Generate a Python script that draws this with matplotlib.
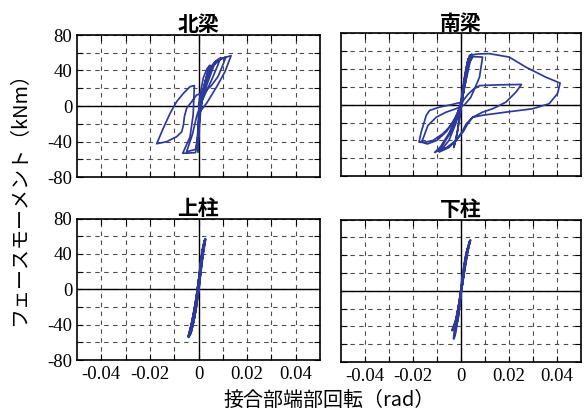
import matplotlib
matplotlib.use("Agg")
import matplotlib.pyplot as plt

plt.rcParams["axes.unicode_minus"] = False

# Joint-face moment vs. joint-end rotation, one hysteresis path per member
titles = ["北梁", "南梁", "上柱", "下柱"]
x_ticks = [-0.04, -0.02, 0.0, 0.02, 0.04]
x_tick_labels = ["-0.04", "-0.02", "0", "0.02", "0.04"]
x_minor = [-0.03, -0.01, 0.01, 0.03]
y_ticks = [-80, -40, 0, 40, 80]
y_tick_labels = ["-80", "-40", "0", "40", "80"]
y_minor = [-60, -20, 20, 60]

# (rotation [rad], moment [kNm]) along the loading history
north_beam = [
    (0.0000, 0.0), (0.0008, 15.0), (0.0020, 32.0), (0.0035, 42.0), (0.0047, 46.0),
    (0.0036, 37.0), (0.0016, 16.0), (0.0003, 0.0), (-0.0002, -20.0), (-0.0004, -38.0), (-0.0003, -48.0),
    (0.0000, -30.0), (0.0005, -10.0), (0.0015, 10.0), (0.0030, 30.0), (0.0050, 44.0), (0.0069, 50.0),
    (0.0056, 40.0), (0.0036, 25.0), (0.0016, 8.0), (0.0003, -8.0), (-0.0001, -30.0), (-0.0002, -52.0),
    (0.0002, -30.0), (0.0008, -8.0), (0.0022, 20.0), (0.0045, 40.0), (0.0072, 51.0), (0.0091, 54.4),
    (0.0078, 45.0), (0.0055, 30.0), (0.0030, 15.0), (0.0010, 3.0), (-0.0008, -12.0), (-0.0025, -32.0),
    (-0.0049, -51.5),
    (-0.0035, -50.5), (-0.0012, -49.0), (-0.0003, -35.0), (0.0003, -12.0), (0.0013, 10.0), (0.0035, 35.0),
    (0.0070, 50.0), (0.0113, 55.5),
    (0.0100, 46.0), (0.0080, 33.0), (0.0050, 22.0), (0.0020, 15.0), (-0.0008, 12.4), (-0.0028, 4.9),
    (-0.0049, -2.6), (-0.0058, -12.0), (-0.0062, -21.4), (-0.0069, -29.0), (-0.0090, -34.6),
    (-0.0131, -40.2), (-0.0172, -42.5),
    (-0.0145, -25.1), (-0.0117, -8.3), (-0.0090, 4.9), (-0.0062, 14.3), (-0.0035, 21.8), (-0.0017, 23.0),
    (-0.0019, 10.0), (-0.0022, -10.0), (-0.0035, -35.0), (-0.0065, -53.3),
    (-0.0040, -53.0), (-0.0012, -52.5), (-0.0005, -40.0), (0.0000, -20.0), (0.0010, 0.0), (0.0028, 25.0),
    (0.0060, 45.0), (0.0090, 53.0), (0.0134, 56.7),
    (0.0109, 38.7), (0.0075, 21.8), (0.0034, 3.4), (0.0010, -5.0),
]

south_beam = [
    (0.0000, 0.0), (0.0015, 30.0), (0.0030, 52.0),
    (0.0020, 40.0), (0.0005, 15.0), (-0.0005, -10.0), (-0.0015, -30.0), (-0.0030, -48.0),
    (-0.0020, -38.0), (-0.0005, -15.0), (0.0005, 5.0), (0.0015, 25.0), (0.0030, 45.0), (0.0045, 57.0),
    (0.0035, 45.0), (0.0015, 20.0), (0.0000, 0.0), (-0.0020, -20.0), (-0.0050, -40.0), (-0.0080, -50.0),
    (-0.0110, -53.6),
    (-0.0085, -47.0), (-0.0050, -32.0), (-0.0020, -14.0), (0.0000, 3.0), (0.0015, 25.0), (0.0030, 45.0),
    (0.0050, 54.0), (0.0090, 53.5),
    (0.0085, 45.0), (0.0077, 31.0), (0.0060, 20.0), (0.0040, 8.0), (0.0015, 0.0), (-0.0021, -4.5),
    (-0.0062, -8.3), (-0.0103, -14.0), (-0.0138, -23.3), (-0.0158, -38.0), (-0.0165, -42.0),
    (-0.0140, -44.0), (-0.0100, -40.0), (-0.0060, -30.0), (-0.0025, -15.0), (0.0000, 0.0),
    (0.0015, 28.0), (0.0030, 50.0), (0.0040, 55.5),
    (0.0030, 42.0), (0.0015, 20.0), (0.0003, 3.0), (-0.0041, 0.0), (-0.0089, -2.6), (-0.0131, -6.4),
    (-0.0145, -12.0), (-0.0166, -30.8), (-0.0175, -42.0),
    (-0.0150, -42.0), (-0.0117, -40.2), (-0.0076, -32.6), (-0.0035, -21.4), (-0.0010, -8.0),
    (0.0010, 5.0), (0.0030, 12.0), (0.0050, 17.0), (0.0077, 21.5), (0.0150, 22.3), (0.0252, 22.8),
    (0.0229, 14.2), (0.0187, 2.9), (0.0132, -4.5), (0.0090, -8.3), (0.0049, -14.0), (0.0022, -21.4),
    (0.0005, -30.0), (-0.0020, -40.0), (-0.0060, -48.0), (-0.0100, -52.0),
    (-0.0080, -47.0), (-0.0045, -32.0), (-0.0015, -14.0), (0.0005, 5.0), (0.0020, 35.0), (0.0035, 55.5),
    (0.0070, 57.0), (0.0118, 57.4), (0.0201, 53.5), (0.0270, 42.3), (0.0353, 31.0), (0.0413, 24.3),
    (0.0402, 12.4), (0.0367, 1.1), (0.0298, -4.5), (0.0187, -8.3), (0.0090, -11.8), (0.0049, -14.0),
    (0.0028, -21.4), (0.0010, -30.0), (-0.0020, -40.0), (-0.0050, -48.0), (-0.0090, -53.0),
]

upper_column = [
    (0.0000, 0.0), (0.0005, 15.0), (0.0011, 30.0), (0.0017, 42.0), (0.0021, 50.0),
    (0.0013, 38.0), (0.0005, 18.0), (-0.0003, 0.0), (-0.0011, -18.0), (-0.0020, -32.0), (-0.0028, -42.0),
    (-0.0018, -32.0), (-0.0008, -15.0), (0.0000, 0.0), (0.0008, 18.0), (0.0016, 36.0), (0.0024, 50.0),
    (0.0028, 56.8),
    (0.0022, 50.0), (0.0012, 32.0), (0.0003, 12.0), (-0.0006, -8.0), (-0.0016, -24.0), (-0.0028, -40.0),
    (-0.0038, -50.0), (-0.0041, -54.0),
    (-0.0033, -50.0), (-0.0022, -38.0), (-0.0012, -22.0), (-0.0004, -5.0), (0.0004, 12.0), (0.0013, 32.0),
    (0.0020, 46.0), (0.0026, 55.0),
    (0.0018, 44.0), (0.0008, 22.0), (-0.0002, 2.0), (-0.0012, -16.0), (-0.0024, -34.0), (-0.0035, -48.0),
    (-0.0040, -53.0),
    (-0.0030, -47.0), (-0.0016, -30.0), (-0.0006, -12.0), (0.0002, 6.0), (0.0010, 26.0), (0.0018, 44.0),
    (0.0025, 54.0),
    (0.0016, 40.0), (0.0006, 18.0), (-0.0004, -2.0), (-0.0014, -20.0), (-0.0026, -38.0), (-0.0036, -50.0),
    (-0.0039, -52.0),
    (-0.0028, -44.0), (-0.0014, -25.0), (-0.0004, -6.0), (0.0000, 0.0),
]

lower_column = [
    (0.0000, 0.0), (0.0006, 15.0), (0.0014, 30.0), (0.0022, 42.0), (0.0028, 48.0),
    (0.0020, 38.0), (0.0010, 20.0), (0.0000, 0.0), (-0.0008, -18.0), (-0.0015, -32.0), (-0.0020, -40.0),
    (-0.0012, -30.0), (-0.0004, -12.0), (0.0004, 6.0), (0.0014, 26.0), (0.0024, 42.0), (0.0033, 52.0),
    (0.0039, 56.9),
    (0.0032, 50.0), (0.0020, 32.0), (0.0008, 12.0), (-0.0004, -8.0), (-0.0016, -28.0), (-0.0026, -42.0),
    (-0.0030, -53.9),
    (-0.0022, -46.0), (-0.0012, -28.0), (-0.0002, -6.0), (0.0008, 14.0), (0.0018, 32.0), (0.0028, 46.0),
    (0.0036, 55.0),
    (0.0026, 44.0), (0.0014, 24.0), (0.0002, 2.0), (-0.0010, -18.0), (-0.0022, -34.0), (-0.0034, -42.0),
    (-0.0037, -44.5),
    (-0.0030, -42.0), (-0.0018, -30.0), (-0.0006, -12.0), (0.0000, 0.0),
]

paths = [north_beam, south_beam, upper_column, lower_column]
line_widths = [1.25, 1.25, 1.8, 1.6]

LINE = "#2E3A9A"
CJK = ["Noto Sans CJK JP", "DejaVu Sans"]
SERIF = "Liberation Serif"

W, H = 586, 415
fig = plt.figure(figsize=(W / 100, H / 100), dpi=100)

# panel boxes in pixels: left, top, right, bottom
boxes = [
    (77, 35, 320, 177),
    (341, 33.5, 581, 176),
    (77, 218.5, 320, 360),
    (341, 219.5, 581, 362),
]

for i, (path, title, (l, t, r, b)) in enumerate(zip(paths, titles, boxes)):
    ax = fig.add_axes([l / W, 1 - b / H, (r - l) / W, (b - t) / H])
    rot = [p[0] for p in path]
    mom = [p[1] for p in path]
    ax.plot(rot, mom, color=LINE, lw=line_widths[i], zorder=3, solid_joinstyle="round")

    ax.set_xlim(-0.05, 0.05)
    ax.set_ylim(-80, 80)
    ax.set_xticks(x_ticks)
    ax.set_xticks(x_minor, minor=True)
    ax.set_yticks(y_ticks)
    ax.set_yticks(y_minor, minor=True)
    ax.grid(which="both", linestyle=(0, (4, 4)), color="0.3", lw=0.8, zorder=1)
    ax.axhline(0, color="black", lw=1.0, zorder=2)
    ax.axvline(0, color="black", lw=1.0, zorder=2)

    row, col = divmod(i, 2)
    if row == 1:
        ax.set_xticklabels(x_tick_labels, fontfamily=SERIF, fontsize=13.5)
    else:
        ax.set_xticklabels([])
    if col == 0:
        ax.set_yticklabels(y_tick_labels, fontfamily=SERIF, fontsize=13.5)
    else:
        ax.set_yticklabels([])

    ax.tick_params(which="both", direction="in", top=True, right=True,
                   length=4, width=0.8, color="black")
    ax.tick_params(axis="x", pad=4)
    ax.tick_params(axis="y", pad=3.5)
    for s in ax.spines.values():
        s.set_linewidth(1.2)

    ax.set_title(title, family=CJK, fontsize=15, fontweight="bold", pad=2)

fig.text(329 / W, 1 - 400 / H, "接合部端部回転（rad）", family=CJK, fontsize=14.4,
         ha="center", va="center")
fig.text(20 / W, 1 - 194 / H, "フェースモーメント（kNm）", family=CJK, fontsize=14.4,
         ha="center", va="center", rotation=90)

fig.savefig("out.png", dpi=100)
